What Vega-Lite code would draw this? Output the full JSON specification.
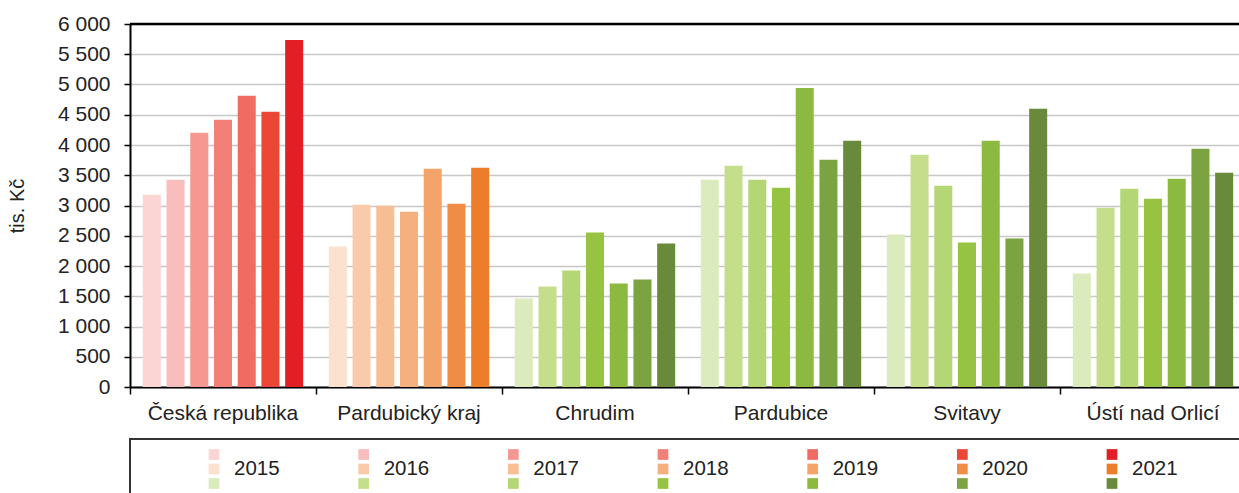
{
  "$schema": "https://vega.github.io/schema/vega-lite/v6.json",
  "padding": {"left": 7, "top": 13, "right": 0, "bottom": 0},
  "bounds": "flush",
  "spacing": 52,
  "config": {
    "view": {"stroke": null},
    "font": "Liberation Sans"
  },
  "datasets": {
    "d": [
      {"region": "Česká republika", "level": "stát", "year": "2015", "value": 3179},
      {"region": "Česká republika", "level": "stát", "year": "2016", "value": 3426},
      {"region": "Česká republika", "level": "stát", "year": "2017", "value": 4202},
      {"region": "Česká republika", "level": "stát", "year": "2018", "value": 4416},
      {"region": "Česká republika", "level": "stát", "year": "2019", "value": 4812},
      {"region": "Česká republika", "level": "stát", "year": "2020", "value": 4548},
      {"region": "Česká republika", "level": "stát", "year": "2021", "value": 5736},
      {"region": "Pardubický kraj", "level": "kraj", "year": "2015", "value": 2321},
      {"region": "Pardubický kraj", "level": "kraj", "year": "2016", "value": 3014},
      {"region": "Pardubický kraj", "level": "kraj", "year": "2017", "value": 2997},
      {"region": "Pardubický kraj", "level": "kraj", "year": "2018", "value": 2898},
      {"region": "Pardubický kraj", "level": "kraj", "year": "2019", "value": 3608},
      {"region": "Pardubický kraj", "level": "kraj", "year": "2020", "value": 3030},
      {"region": "Pardubický kraj", "level": "kraj", "year": "2021", "value": 3624},
      {"region": "Chrudim", "level": "okres", "year": "2015", "value": 1463},
      {"region": "Chrudim", "level": "okres", "year": "2016", "value": 1661},
      {"region": "Chrudim", "level": "okres", "year": "2017", "value": 1925},
      {"region": "Chrudim", "level": "okres", "year": "2018", "value": 2552},
      {"region": "Chrudim", "level": "okres", "year": "2019", "value": 1710},
      {"region": "Chrudim", "level": "okres", "year": "2020", "value": 1776},
      {"region": "Chrudim", "level": "okres", "year": "2021", "value": 2370},
      {"region": "Pardubice", "level": "okres", "year": "2015", "value": 3426},
      {"region": "Pardubice", "level": "okres", "year": "2016", "value": 3657},
      {"region": "Pardubice", "level": "okres", "year": "2017", "value": 3426},
      {"region": "Pardubice", "level": "okres", "year": "2018", "value": 3294},
      {"region": "Pardubice", "level": "okres", "year": "2019", "value": 4944},
      {"region": "Pardubice", "level": "okres", "year": "2020", "value": 3756},
      {"region": "Pardubice", "level": "okres", "year": "2021", "value": 4070},
      {"region": "Svitavy", "level": "okres", "year": "2015", "value": 2519},
      {"region": "Svitavy", "level": "okres", "year": "2016", "value": 3839},
      {"region": "Svitavy", "level": "okres", "year": "2017", "value": 3327},
      {"region": "Svitavy", "level": "okres", "year": "2018", "value": 2387},
      {"region": "Svitavy", "level": "okres", "year": "2019", "value": 4070},
      {"region": "Svitavy", "level": "okres", "year": "2020", "value": 2453},
      {"region": "Svitavy", "level": "okres", "year": "2021", "value": 4598},
      {"region": "Ústí nad Orlicí", "level": "okres", "year": "2015", "value": 1875},
      {"region": "Ústí nad Orlicí", "level": "okres", "year": "2016", "value": 2964},
      {"region": "Ústí nad Orlicí", "level": "okres", "year": "2017", "value": 3278},
      {"region": "Ústí nad Orlicí", "level": "okres", "year": "2018", "value": 3113},
      {"region": "Ústí nad Orlicí", "level": "okres", "year": "2019", "value": 3443},
      {"region": "Ústí nad Orlicí", "level": "okres", "year": "2020", "value": 3938},
      {"region": "Ústí nad Orlicí", "level": "okres", "year": "2021", "value": 3542}
    ]
  },
  "vconcat": [
    {
      "width": 1116,
      "height": 363,
      "data": {"name": "d"},
      "layer": [
        {
          "transform": [{"filter": "datum.level === 'stát'"}],
          "mark": {"type": "bar"},
          "encoding": {
            "x": {"field": "region", "type": "nominal", "scale": {"domain": ["Česká republika", "Pardubický kraj", "Chrudim", "Pardubice", "Svitavy", "Ústí nad Orlicí"], "paddingInner": 0, "paddingOuter": 0},
              "axis": {"title": null, "labelAngle": 0, "labelFontSize": 21, "labelColor": "#222", "labelPadding": 8, "bandPosition": 0, "tickSize": 7, "tickColor": "#000", "tickWidth": 1.5, "domainColor": "#000", "domainWidth": 2, "grid": false}},
            "xOffset": {"field": "year", "type": "nominal", "scale": {"domain": ["2015", "2016", "2017", "2018", "2019", "2020", "2021"], "paddingInner": 0.24, "paddingOuter": 0.54}},
            "y": {"field": "value", "type": "quantitative", "scale": {"domain": [0, 6000], "nice": false},
              "axis": {"title": "tis. Kč", "titleFontSize": 20, "titleFontWeight": "normal", "titleColor": "#222", "titlePadding": 30, "values": [0, 500, 1000, 1500, 2000, 2500, 3000, 3500, 4000, 4500, 5000, 5500, 6000], "tickCount": 20, "labelOverlap": false, "labelExpr": "replace(format(datum.value, ','), ',', ' ')", "labelFontSize": 21, "labelColor": "#222", "labelPadding": 14, "tickSize": 6, "tickColor": "#000", "tickWidth": 1.5, "domainColor": "#000", "domainWidth": 2, "grid": true, "gridColor": "#c8c8c8", "gridWidth": 1.5}},
            "color": {"field": "year", "type": "nominal", "scale": {"domain": ["2015", "2016", "2017", "2018", "2019", "2020", "2021"], "range": ["#fbd4d4", "#f8bdbc", "#f59892", "#f27f78", "#f06b62", "#ec4636", "#e31f26"]}, "legend": null}
          }
        },
        {
          "transform": [{"filter": "datum.level === 'kraj'"}],
          "mark": {"type": "bar"},
          "encoding": {
            "x": {"field": "region", "type": "nominal"},
            "xOffset": {"field": "year", "type": "nominal"},
            "y": {"field": "value", "type": "quantitative"},
            "color": {"field": "year", "type": "nominal", "scale": {"domain": ["2015", "2016", "2017", "2018", "2019", "2020", "2021"], "range": ["#fde1cf", "#f9cbab", "#f7bd93", "#f4b07e", "#f2a46b", "#ef8d47", "#ec7e2b"]}, "legend": null}
          }
        },
        {
          "transform": [{"filter": "datum.level === 'okres'"}],
          "mark": {"type": "bar"},
          "encoding": {
            "x": {"field": "region", "type": "nominal"},
            "xOffset": {"field": "year", "type": "nominal"},
            "y": {"field": "value", "type": "quantitative"},
            "color": {"field": "year", "type": "nominal", "scale": {"domain": ["2015", "2016", "2017", "2018", "2019", "2020", "2021"], "range": ["#dcebbd", "#c5de8b", "#b5d674", "#97c343", "#8cba40", "#7ba341", "#6a8a3b"]}, "legend": null}
          }
        },
        {
          "data": {"values": [{}]},
          "mark": {"type": "rule", "color": "#000", "strokeWidth": 2.5},
          "encoding": {"y": {"datum": 6000}}
        }
      ],
      "resolve": {"scale": {"color": "independent"}}
    },
    {
      "width": 1116,
      "height": 60,
      "view": {"stroke": "#333", "strokeWidth": 2},
      "data": {"name": "d"},
      "layer": [
        {
          "transform": [{"filter": "datum.level === 'stát'"}],
          "mark": {"type": "square", "size": 115, "opacity": 1},
          "encoding": {
            "x": {"field": "year", "type": "ordinal", "scale": {"type": "point", "range": [84, 982], "padding": 0}, "axis": null},
            "y": {"field": "level", "type": "nominal", "scale": {"type": "point", "domain": ["stát", "kraj", "okres"], "range": [15.5, 44.5], "padding": 0}, "axis": null},
            "color": {"field": "year", "type": "nominal", "scale": {"domain": ["2015", "2016", "2017", "2018", "2019", "2020", "2021"], "range": ["#fbd4d4", "#f8bdbc", "#f59892", "#f27f78", "#f06b62", "#ec4636", "#e31f26"]}, "legend": null}
          }
        },
        {
          "transform": [{"filter": "datum.level === 'kraj'"}],
          "mark": {"type": "square", "size": 115, "opacity": 1},
          "encoding": {
            "x": {"field": "year", "type": "ordinal"},
            "y": {"field": "level", "type": "nominal"},
            "color": {"field": "year", "type": "nominal", "scale": {"domain": ["2015", "2016", "2017", "2018", "2019", "2020", "2021"], "range": ["#fde1cf", "#f9cbab", "#f7bd93", "#f4b07e", "#f2a46b", "#ef8d47", "#ec7e2b"]}, "legend": null}
          }
        },
        {
          "transform": [{"filter": "datum.region === 'Chrudim'"}],
          "mark": {"type": "square", "size": 115, "opacity": 1},
          "encoding": {
            "x": {"field": "year", "type": "ordinal"},
            "y": {"field": "level", "type": "nominal"},
            "color": {"field": "year", "type": "nominal", "scale": {"domain": ["2015", "2016", "2017", "2018", "2019", "2020", "2021"], "range": ["#dcebbd", "#c5de8b", "#b5d674", "#97c343", "#8cba40", "#7ba341", "#6a8a3b"]}, "legend": null}
          }
        },
        {
          "transform": [{"filter": "datum.level === 'kraj'"}],
          "mark": {"type": "text", "align": "left", "baseline": "middle", "dx": 20, "fontSize": 20.5, "color": "#222"},
          "encoding": {
            "x": {"field": "year", "type": "ordinal"},
            "y": {"field": "level", "type": "nominal"},
            "text": {"field": "year"}
          }
        }
      ],
      "resolve": {"scale": {"color": "independent"}}
    }
  ]
}
